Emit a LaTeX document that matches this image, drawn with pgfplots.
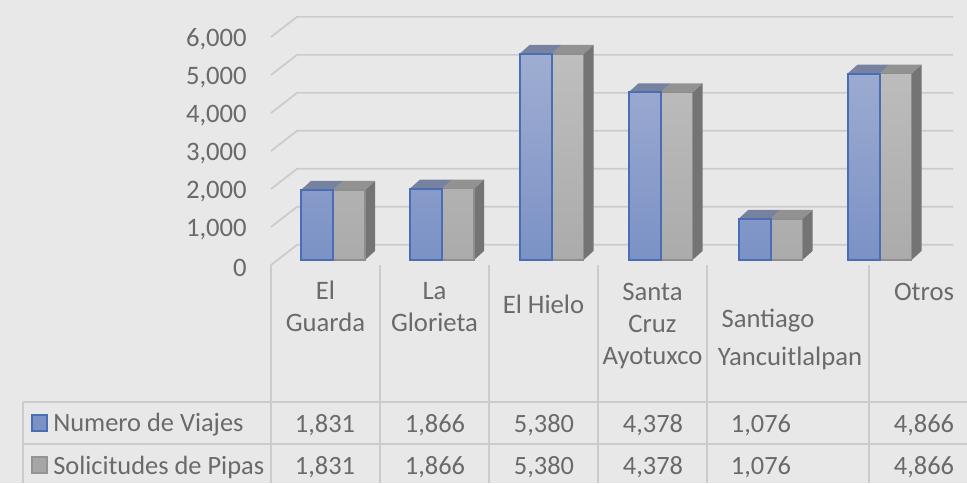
\documentclass[border=0pt]{standalone}
\usepackage{fontspec}
\setmainfont{Carlito}
\usepackage{pgfplots}
\pgfplotsset{compat=1.18}
\definecolor{bg}{HTML}{E8E8E8}
\definecolor{gridc}{HTML}{CBCBCB}
\definecolor{txt}{HTML}{6A6A6A}
\definecolor{bluee}{HTML}{4A6DB4}
\definecolor{bluet}{HTML}{9FADD1}
\definecolor{blueb}{HTML}{7B92C6}
\definecolor{bluetop}{HTML}{76829F}
\definecolor{grayt}{HTML}{BEBEBE}
\definecolor{grayb}{HTML}{ABABAB}
\definecolor{graye}{HTML}{8E8E8E}
\definecolor{graytop}{HTML}{929292}
\definecolor{grayside}{HTML}{747474}
\newcommand\lab[2]{\raisebox{#1}[0pt][0pt]{\begin{tabular}{@{}c@{}}#2\end{tabular}}}
\pgfplotsset{
  front/.style={ybar,bar width=32,draw=bluee,line width=1.5pt,shade,shading angle=0,top color=bluet,bottom color=blueb,bar shift=-16},
  frontg/.style={ybar,bar width=32,draw=graye,line width=1.2pt,shade,shading angle=0,top color=grayt,bottom color=grayb,bar shift=16},
  side/.style={fill=grayside,draw=none},
  topb/.style={fill=bluetop,draw=none},
  topg/.style={fill=graytop,draw=none},
  gl/.style={draw=gridc,line width=1.3pt,no marks},
}
\begin{document}
\begin{tikzpicture}[x=0.75pt,y=0.75pt]
\fill[bg] (0,0) rectangle (967,483);
\path[use as bounding box] (0,0) rectangle (967,483);
% table lines
\begin{scope}[gridc,line width=1.3pt]
\draw (23,81) -- (967,81);
\draw (23,39) -- (967,39);
\draw (23,81) -- (23,0);
\foreach \x in {271,380,489,598,707,869} \draw (\x,218) -- (\x,0);
\end{scope}
% walls and axis labels
\begin{axis}[
  at={(203.25pt,163.5pt)},anchor=south west,scale only axis,
  width=522pt,height=171pt,
  xmin=271,xmax=967,ymin=0,ymax=6000,clip=false,
  axis line style={draw=none},axis x line*=bottom,axis y line*=left,
  major tick length=0pt,
  ytick={0,1000,2000,3000,4000,5000,6000},
  xtick={325.5,434.5,543.5,652.5,790,924},
  xticklabels={
    \lab{-8.5pt}{El\\Guarda},
    \lab{-8.5pt}{La\\Glorieta},
    \lab{-6.75pt}{El Hielo},
    \lab{-21.25pt}{Santa\\Cruz\\Ayotuxco},
    \lab{-31.5pt}{Santiago\hspace*{33pt}\\[5pt]Yancuitlalpan},
    \lab{3pt}{Otros}},
  xticklabel style={anchor=base,inner sep=0pt,yshift=-30pt,font=\fontsize{20}{24}\selectfont,text=txt},
  yticklabel style={anchor=east,inner sep=0pt,xshift=-18pt,yshift=-2pt,font=\fontsize{20}{24}\selectfont,text=txt},
  /pgf/number format/.cd,1000 sep={,},assume math mode=true,
]
\addplot[gl] coordinates {(271,0)(297,530)(953,530)};
\addplot[gl] coordinates {(271,1000)(297,1530)(953,1530)};
\addplot[gl] coordinates {(271,2000)(297,2530)(953,2530)};
\addplot[gl] coordinates {(271,3000)(297,3530)(953,3530)};
\addplot[gl] coordinates {(271,4000)(297,4530)(953,4530)};
\addplot[gl] coordinates {(271,5000)(297,5530)(953,5530)};
\addplot[gl] coordinates {(271,6000)(297,6530)(953,6530)};
\end{axis}
% bars
\begin{axis}[
  at={(203.25pt,167.25pt)},anchor=south west,scale only axis,
  width=522pt,height=172.35pt,
  xmin=271,xmax=967,ymin=0,ymax=6000,clip=false,hide axis,
]
% right side faces
\addplot[side] coordinates {(365,0)(375,235)(375,2066)(365,1831)} --cycle;
\addplot[side] coordinates {(474,0)(484,235)(484,2101)(474,1866)} --cycle;
\addplot[side] coordinates {(583.5,0)(593.5,235)(593.5,5615)(583.5,5380)} --cycle;
\addplot[side] coordinates {(692.5,0)(702.5,235)(702.5,4613)(692.5,4378)} --cycle;
\addplot[side] coordinates {(802.5,0)(812.5,235)(812.5,1311)(802.5,1076)} --cycle;
\addplot[side] coordinates {(911.5,0)(921.5,235)(921.5,5101)(911.5,4866)} --cycle;
% top faces, gray
\addplot[topg] coordinates {(333,1831)(343,2066)(375,2066)(365,1831)} --cycle;
\addplot[topg] coordinates {(442,1866)(452,2101)(484,2101)(474,1866)} --cycle;
\addplot[topg] coordinates {(551.5,5380)(561.5,5615)(593.5,5615)(583.5,5380)} --cycle;
\addplot[topg] coordinates {(660.5,4378)(670.5,4613)(702.5,4613)(692.5,4378)} --cycle;
\addplot[topg] coordinates {(770.5,1076)(780.5,1311)(812.5,1311)(802.5,1076)} --cycle;
\addplot[topg] coordinates {(879.5,4866)(889.5,5101)(921.5,5101)(911.5,4866)} --cycle;
% top faces, blue
\addplot[topb] coordinates {(301,1831)(311,2066)(343,2066)(333,1831)} --cycle;
\addplot[topb] coordinates {(410,1866)(420,2101)(452,2101)(442,1866)} --cycle;
\addplot[topb] coordinates {(519.5,5380)(529.5,5615)(561.5,5615)(551.5,5380)} --cycle;
\addplot[topb] coordinates {(628.5,4378)(638.5,4613)(670.5,4613)(660.5,4378)} --cycle;
\addplot[topb] coordinates {(738.5,1076)(748.5,1311)(780.5,1311)(770.5,1076)} --cycle;
\addplot[topb] coordinates {(847.5,4866)(857.5,5101)(889.5,5101)(879.5,4866)} --cycle;
% front faces
\addplot[frontg] coordinates {(333,1831)(442,1866)(551.5,5380)(660.5,4378)(770.5,1076)(879.5,4866)};
\addplot[front] coordinates {(333,1831)(442,1866)(551.5,5380)(660.5,4378)(770.5,1076)(879.5,4866)};
\end{axis}
% legend keys
\filldraw[fill=blueb,draw=bluee,line width=1.2pt] (32,52) rectangle (47,68);
\filldraw[fill=gray!70,draw=gray!85,line width=1pt] (32,10) rectangle (47,26);
% table text
\begin{scope}[every node/.style={text=txt,font=\fontsize{19.8}{22}\selectfont,inner sep=0pt}]
\node[anchor=west] at (53,58) {Numero de Viajes};
\node[anchor=west] at (53,16) {Solicitudes de Pipas};
\node at (325,58) {1,831}; \node at (325,16) {1,831};
\node at (435,58) {1,866}; \node at (435,16) {1,866};
\node at (544,58) {5,380}; \node at (544,16) {5,380};
\node at (653,58) {4,378}; \node at (653,16) {4,378};
\node at (761,58) {1,076}; \node at (761,16) {1,076};
\node at (924,58) {4,866}; \node at (924,16) {4,866};
\end{scope}
\end{tikzpicture}
\end{document}
